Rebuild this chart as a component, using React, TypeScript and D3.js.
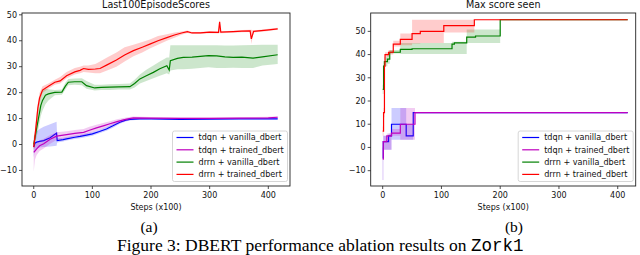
import React from 'react';
import * as d3 from 'd3';

// [step, mean, low, high]
type Pt = [number, number, number, number];

const seriesNames = ['tdqn + vanilla_dbert', 'tdqn + trained_dbert', 'drrn + vanilla_dbert', 'drrn + trained_dbert'];
const seriesColors = ['#0000ff', '#bf00bf', '#008000', '#ff0000'];

const xTicks = [0, 100, 200, 300, 400];
const yTicks = [-10, 0, 10, 20, 30, 40, 50];

// Last100EpisodeScores
const tdqnVanillaLast: Pt[] = [
  [0, -1, -5, 3], [2, 0.5, -2, 4], [5, 0.9, -1.5, 5], [10, 1.2, -1.2, 6], [17, 1.5, -1, 6.8],
  [28, 2.6, -0.8, 7.8], [39, 4.4, -0.5, 8.8], [40, 1.5, 0.8, 2.4], [50, 1.9, 1.2, 2.6],
  [56, 2.2, 1.5, 2.9], [70, 2.8, 2.1, 3.5], [79, 3.1, 2.4, 3.8], [90, 3.6, 2.9, 4.3],
  [100, 4.1, 3.4, 4.8], [112, 5, 4.3, 5.7], [124, 6, 5.3, 6.7], [135, 7.2, 6.5, 7.9],
  [147, 8.6, 8, 9.2], [157, 9.4, 8.9, 9.9], [164, 9.7, 9.3, 10.1], [180, 9.9, 9.5, 10.3],
  [200, 9.9, 9.6, 10.2], [250, 9.7, 9.4, 10], [300, 9.8, 9.5, 10.1], [350, 9.9, 9.6, 10.2],
  [400, 9.9, 9.6, 10.2], [416, 9.9, 9.6, 10.2],
];
const tdqnTrainedLast: Pt[] = [
  [0, -3, -10.5, 0], [2, -2.5, -6, 0.5], [5, -1.7, -4, 0.5], [10, -0.5, -2.5, 1.5],
  [17, 0.3, -1.5, 2.2], [28, 2, 0.3, 3.7], [39, 3.2, 1.7, 4.7], [56, 3.8, 2.5, 5.1],
  [70, 4.3, 3, 5.6], [85, 4.7, 3.5, 6], [95, 5.5, 4.3, 6.8], [107, 6.4, 5.3, 7.6],
  [120, 7.3, 6.3, 8.4], [130, 8, 7.1, 9], [142, 8.8, 8, 9.7], [153, 9.5, 8.8, 10.2],
  [163, 10, 9.4, 10.6], [170, 10.3, 9.8, 10.8], [200, 10.2, 9.8, 10.6], [250, 10.1, 9.8, 10.4],
  [300, 10.1, 9.8, 10.4], [350, 10.2, 9.9, 10.5], [400, 10.3, 10, 10.7], [416, 10.5, 10.1, 10.9],
];
const drrnVanillaLast: Pt[] = [
  [0, 0, -2, 2], [4, 5, 2, 8], [8, 10, 6, 14], [12, 15, 11, 20], [15, 17, 13, 21],
  [20, 19, 15.5, 21.5], [25, 19.5, 17, 21.3], [36, 20.1, 19, 21], [48, 20.2, 19.2, 21.2],
  [54, 22.5, 21.2, 23.8], [59, 24, 22.8, 25.3], [70, 24.2, 23, 25.4], [82, 24.2, 22.8, 25.5],
  [90, 22.7, 21.5, 24.5], [104, 21.8, 20.8, 23], [115, 22, 21, 23], [130, 22.1, 21, 23.2],
  [145, 22.2, 21.2, 23.3], [164, 22.3, 21.2, 23.5], [172, 23.5, 22, 25], [181, 25.3, 23.5, 27],
  [192, 26.5, 24.5, 28.8], [204, 27.8, 25.5, 30.5], [215, 29.2, 26.5, 32], [227, 30.4, 27.5, 33.5],
  [231, 28.7, 27, 33.5], [233, 32.3, 28.5, 38.3], [245, 33.2, 29, 38.3], [255, 33.6, 29, 38.3],
  [270, 33.7, 29.2, 38.3], [284, 34, 29.5, 38.3], [298, 34.3, 29.8, 38.3], [312, 34.2, 29.5, 38.3],
  [326, 33.8, 29.5, 38.2], [340, 33.6, 29.6, 38.2], [355, 33.7, 29.5, 38.3], [374, 33.3, 29.5, 38.4],
  [390, 33.8, 30.5, 38.5], [416, 34.6, 31, 38.5],
];
const drrnTrainedLast: Pt[] = [
  [0, -1, -3, 1], [3, 5, 2, 8], [7, 14, 11, 16], [10, 18, 16, 20], [15, 21, 20, 22.5],
  [25, 22.5, 21.5, 23.5], [36, 24, 23, 25], [45, 24.5, 23.5, 26], [56, 26.5, 25.5, 28],
  [70, 28, 27, 29.5], [79, 28.6, 27.5, 30], [85, 29.3, 28, 30.5], [93, 29, 27.8, 30.5],
  [105, 29.1, 27.5, 31], [113, 29.3, 27.5, 32], [125, 30.7, 28.5, 33.5], [141, 32.6, 30, 35.5],
  [155, 34.5, 32, 37.5], [170, 36.2, 34, 38.5], [185, 37.5, 35.5, 39.5], [198, 38.7, 37, 40.5],
  [212, 40, 38.5, 41.8], [227, 41.2, 40, 42.5], [240, 42.2, 41.2, 43.2], [252, 43, 42.3, 43.6],
  [262, 43.5, 43, 44], [270, 43, 42.6, 43.4], [284, 43, 42.6, 43.4], [300, 43.3, 42.9, 43.7],
  [315, 43.2, 42.8, 43.6], [317, 47.3, 43, 48], [319, 43.3, 42.9, 43.7], [340, 43.5, 43.1, 43.9],
  [355, 43.7, 43.3, 44.1], [369, 43.8, 43.4, 44.2], [371, 40.7, 38.7, 44.2], [375, 43.6, 43.2, 44],
  [397, 44.1, 43.7, 44.5], [416, 44.6, 44.2, 45],
];

// Max score seen (step functions)
const tdqnVanillaMax: Pt[] = [
  [0, -4.5, -14, 0], [1, 2.5, -1, 5], [10, 5, -1, 6], [15, 10, 3.3, 17], [40, 5, 3.3, 10],
  [52, 15, 15, 15], [417, 15, 15, 15],
];
const tdqnTrainedMax: Pt[] = [
  [0, -5, -14, 0], [1, 2.5, -1, 5], [7, 5, -1, 6], [15, 6.2, 5, 8], [30, 10, 3.3, 17],
  [55, 15, 15, 15], [417, 15, 15, 15],
];
const drrnVanillaMax: Pt[] = [
  [0, 25, 23, 27], [1.5, 35, 33, 37], [3, 37, 35, 39], [8, 38, 36, 40], [12, 41, 40.5, 42],
  [30, 42.2, 40.2, 45], [50, 42.5, 40.2, 45], [118, 44.5, 40.2, 45.5], [122, 45, 40.2, 45.5],
  [143, 47.5, 45, 50.8], [158, 48, 45, 50.8], [200, 55, 55, 55], [417, 55, 55, 55],
];
const drrnTrainedMax: Pt[] = [
  [0, 7, 5, 9], [1.5, 15, 13, 17], [3, 35, 33, 37], [4, 40, 39, 41], [10, 41, 40, 42],
  [18, 44.5, 43.5, 46], [30, 46.5, 44, 49.1], [50, 49, 44.8, 55], [64, 50, 45, 55],
  [104, 52.5, 49.5, 55], [156, 55, 55, 55], [417, 55, 55, 55],
];

const lastSeries = [tdqnVanillaLast, tdqnTrainedLast, drrnVanillaLast, drrnTrainedLast];
const maxSeries = [tdqnVanillaMax, tdqnTrainedMax, drrnVanillaMax, drrnTrainedMax];

const FONT = '"DejaVu Sans", sans-serif';

type PanelProps = {
  title: string;
  data: Pt[][];
  xRange: [number, number];
  xDomain: [number, number];
  yDomain: [number, number];
  step: boolean;
};

function Panel({ title, data, xRange, xDomain, yDomain, step }: PanelProps) {
  const top = 13;
  const bottom = 186;
  const x = d3.scaleLinear().domain(xDomain).range(xRange);
  const y = d3.scaleLinear().domain(yDomain).range([bottom, top]);
  const curve = step ? d3.curveStepAfter : d3.curveLinear;
  const line = d3.line<Pt>().x(d => x(d[0])).y(d => y(d[1])).curve(curve);
  const area = d3.area<Pt>().x(d => x(d[0])).y0(d => y(d[2])).y1(d => y(d[3])).curve(curve);
  const [l, r] = xRange;
  const cx = (l + r) / 2;
  const clipId = 'clip-' + title.replace(/\s/g, '');
  const legW = 115;
  const legX = r - legW - 2.5;
  const legY = 131;

  return (
    <g fontFamily={FONT}>
      <text x={cx} y={8} textAnchor="middle" fontSize={9.6} fill="#111">{title}</text>
      <clipPath id={clipId}>
        <rect x={l} y={top} width={r - l} height={bottom - top} />
      </clipPath>
      <g clipPath={`url(#${clipId})`}>
        {data.map((s, i) => (
          <g key={i}>
            <path d={area(s) ?? ''} fill={seriesColors[i]} fillOpacity={0.2} stroke="none" />
            <path d={line(s) ?? ''} fill="none" stroke={seriesColors[i]} strokeWidth={1.2} />
          </g>
        ))}
      </g>
      <rect x={l} y={top} width={r - l} height={bottom - top} fill="none" stroke="#222" strokeWidth={0.9} />
      {xTicks.map(t => (
        <g key={t} transform={`translate(${x(t)},${bottom})`}>
          <line y2={3} stroke="#222" strokeWidth={0.8} />
          <text y={12.3} textAnchor="middle" fontSize={8} fill="#111">{t}</text>
        </g>
      ))}
      {yTicks.map(t => (
        <g key={t} transform={`translate(${l},${y(t)})`}>
          <line x2={-3} stroke="#222" strokeWidth={0.8} />
          <text x={-5} dy="0.34em" textAnchor="end" fontSize={8} fill="#111">{t < 0 ? '\u2212' + Math.abs(t) : t}</text>
        </g>
      ))}
      <text x={cx} y={210} textAnchor="middle" fontSize={8} fill="#111">Steps (x100)</text>
      <rect x={legX} y={legY} width={legW} height={50.5} rx={2} fill="#fff" fillOpacity={0.8} stroke="#ccc" strokeWidth={0.8} />
      {seriesNames.map((n, i) => (
        <g key={n} transform={`translate(${legX + 4},${legY + 6.5 + i * 12.3})`}>
          <line x1={0} x2={17} stroke={seriesColors[i]} strokeWidth={1.2} />
          <text x={22} dy="0.34em" fontSize={8.1} fill="#111">{n}</text>
        </g>
      ))}
    </g>
  );
}

export default function App() {
  return (
    <svg width={640} height={255} style={{ position: 'absolute', left: 0, top: 0, background: '#fff' }}>
      <Panel title="Last100EpisodeScores" data={lastSeries} xRange={[22, 290]} xDomain={[-20, 437]} yDomain={[-16, 50.7]} step={false} />
      <Panel title="Max score seen" data={maxSeries} xRange={[370.7, 635.7]} xDomain={[-20.4, 430.6]} yDomain={[-16.6, 57.9]} step={true} />
      <g fontFamily='"Liberation Serif", "Times New Roman", serif' fill="#000">
        <text x={149} y={231.5} textAnchor="middle" fontSize={15.5}>(a)</text>
        <text x={514} y={231.5} textAnchor="middle" fontSize={15.5}>(b)</text>
        <text x={117} y={251} fontSize={17.5}>
          Figure 3: DBERT performance ablation results on{' '}
          <tspan fontFamily='"Liberation Mono", monospace'>Zork1</tspan>
        </text>
      </g>
    </svg>
  );
}
